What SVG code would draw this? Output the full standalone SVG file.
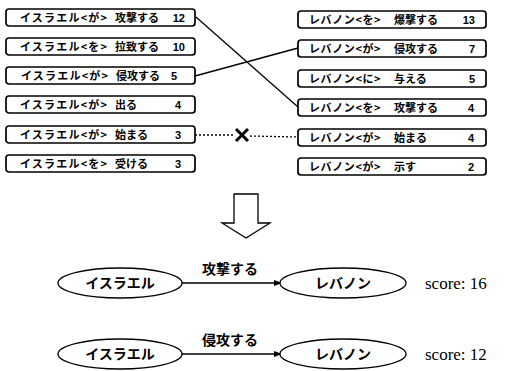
<svg xmlns="http://www.w3.org/2000/svg" width="506" height="371" viewBox="0 0 506 371">
<defs>
<style>
.box{fill:#fff;stroke:#000;stroke-width:1.7}
.t{font-family:"Noto Sans CJK JP","Noto Sans",sans-serif;font-weight:bold;font-size:11px;fill:#000}
.lb{letter-spacing:1.2px}
.rb{letter-spacing:0.6px}
.n{font-family:"Liberation Sans",sans-serif;font-weight:bold;font-size:11px;fill:#000;text-anchor:end}
.e{fill:#fff;stroke:#000;stroke-width:1.3}
.et{font-family:"Noto Sans CJK JP",sans-serif;font-weight:bold;font-size:14px;fill:#000;text-anchor:middle}
.s{font-family:"Liberation Serif",serif;font-size:17px;fill:#000}
.ln{stroke:#000;stroke-width:1.3;fill:none}
.dot{stroke:#000;stroke-width:1.3;fill:none;stroke-dasharray:2,2}
</style>
<marker id="ah" markerWidth="8" markerHeight="6" refX="7" refY="3" orient="auto" markerUnits="userSpaceOnUse">
<path d="M0,0 L8,3 L0,6 Z" fill="#000"/>
</marker>
</defs>
<rect width="506" height="371" fill="#fff"/>

<g id="L1"><rect class="box" x="6" y="9" width="189" height="17" rx="3"/><text class="t lb" x="20" y="22">イスラエル&lt;が&gt;</text><text class="t" x="115" y="22">攻撃する</text><text class="n" x="185" y="22">12</text></g>
<g id="L2"><rect class="box" x="6" y="38" width="189" height="17" rx="3"/><text class="t lb" x="20" y="51">イスラエル&lt;を&gt;</text><text class="t" x="115" y="51">拉致する</text><text class="n" x="185" y="51">10</text></g>
<g id="L3"><rect class="box" x="6" y="67" width="189" height="17" rx="3"/><text class="t lb" x="21" y="80">イスラエル&lt;が&gt;</text><text class="t" x="116" y="80">侵攻する</text><text class="n" x="177" y="80">5</text></g>
<g id="L4"><rect class="box" x="6" y="96" width="189" height="17" rx="3"/><text class="t lb" x="20" y="109">イスラエル&lt;が&gt;</text><text class="t" x="115" y="109">出る</text><text class="n" x="181" y="109">4</text></g>
<g id="L5"><rect class="box" x="6" y="126" width="189" height="17" rx="3"/><text class="t lb" x="20" y="139">イスラエル&lt;が&gt;</text><text class="t" x="115" y="139">始まる</text><text class="n" x="181" y="139">3</text></g>
<g id="L6"><rect class="box" x="6" y="155" width="189" height="17" rx="3"/><text class="t lb" x="20" y="168">イスラエル&lt;を&gt;</text><text class="t" x="115" y="168">受ける</text><text class="n" x="181" y="168">3</text></g>

<g id="R1"><rect class="box" x="298" y="11" width="188" height="17" rx="3"/><text class="t rb" x="309" y="24">レバノン&lt;を&gt;</text><text class="t" x="394" y="24">爆撃する</text><text class="n" x="475" y="24">13</text></g>
<g id="R2"><rect class="box" x="298" y="40" width="188" height="17" rx="3"/><text class="t rb" x="309" y="53">レバノン&lt;が&gt;</text><text class="t" x="394" y="53">侵攻する</text><text class="n" x="475" y="53">7</text></g>
<g id="R3"><rect class="box" x="298" y="70" width="188" height="17" rx="3"/><text class="t rb" x="309" y="83">レバノン&lt;に&gt;</text><text class="t" x="394" y="83">与える</text><text class="n" x="475" y="83">5</text></g>
<g id="R4"><rect class="box" x="298" y="99" width="188" height="17" rx="3"/><text class="t rb" x="309" y="112">レバノン&lt;を&gt;</text><text class="t" x="394" y="112">攻撃する</text><text class="n" x="474" y="112">4</text></g>
<g id="R5"><rect class="box" x="298" y="129" width="188" height="17" rx="3"/><text class="t rb" x="309" y="142">レバノン&lt;が&gt;</text><text class="t" x="394" y="142">始まる</text><text class="n" x="474" y="142">4</text></g>
<g id="R6"><rect class="box" x="298" y="158" width="188" height="17" rx="3"/><text class="t rb" x="309" y="171">レバノン&lt;が&gt;</text><text class="t" x="394" y="171">示す</text><text class="n" x="474" y="171">2</text></g>

<g id="connectors">
<line class="ln" x1="196" y1="17" x2="298" y2="107"/>
<line class="ln" x1="195" y1="76" x2="298" y2="48"/>
<line class="dot" x1="195" y1="135" x2="234" y2="135"/>
<line class="dot" x1="250" y1="136" x2="298" y2="137"/>
<path d="M236,129 L248,141 M248,129 L236,141" stroke="#000" stroke-width="3" fill="none"/>
<path d="M234,194 L258,194 L258,223 L270,223 L246,238 L222,223 L234,223 Z" fill="#fff" stroke="#000" stroke-width="1.3"/>
<line class="ln" x1="182" y1="283" x2="281" y2="283" marker-end="url(#ah)"/>
<line class="ln" x1="182" y1="354" x2="281" y2="354" marker-end="url(#ah)"/>
</g>

<g id="E1"><ellipse class="e" cx="120" cy="283" rx="62" ry="15"/><text class="et" x="120" y="288">イスラエル</text></g>
<g id="E2"><ellipse class="e" cx="343" cy="283" rx="63" ry="15"/><text class="et" x="343" y="288">レバノン</text></g>
<g id="E3"><ellipse class="e" cx="120" cy="354" rx="62" ry="15"/><text class="et" x="120" y="359">イスラエル</text></g>
<g id="E4"><ellipse class="e" cx="343" cy="354" rx="63" ry="15"/><text class="et" x="343" y="359">レバノン</text></g>
<text class="et" x="230" y="274">攻撃する</text>
<text class="et" x="230" y="345">侵攻する</text>
<text class="s" x="425" y="289">score: 16</text>
<text class="s" x="425" y="360">score: 12</text>
</svg>
